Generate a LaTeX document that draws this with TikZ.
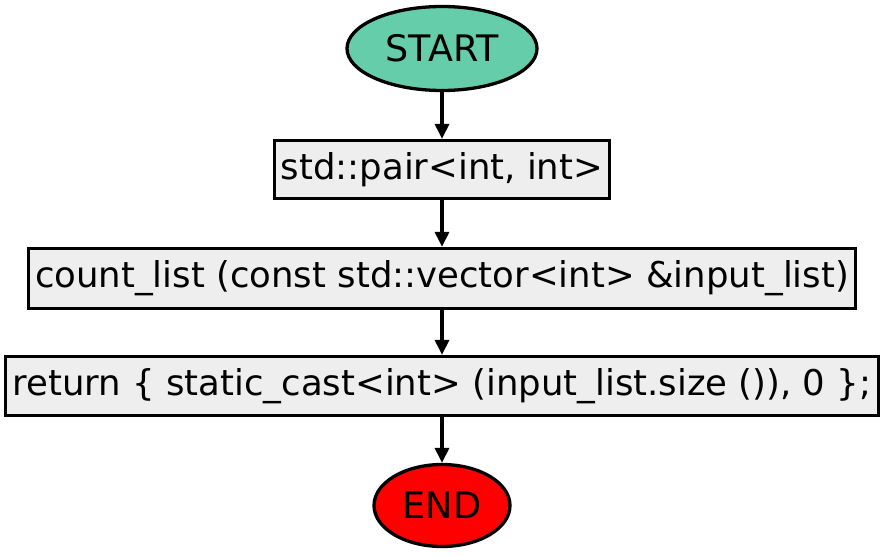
\documentclass[tikz,border=0pt]{standalone}
\usepackage{fontspec}
\setmainfont{DejaVu Sans}
\usetikzlibrary{shapes.geometric,arrows.meta}
\definecolor{startc}{HTML}{66CDAA}
\definecolor{boxc}{HTML}{EEEEEE}
\definecolor{endc}{HTML}{FF0000}
\begin{document}
\begin{tikzpicture}[x=1pt,y=-1pt,
  term/.style={ellipse,draw=black,line width=3.3pt,inner sep=0pt,font=\fontsize{36.5}{40}\selectfont},
  proc/.style={rectangle,draw=black,line width=3.3pt,fill=boxc,inner sep=0pt,font=\fontsize{35.5}{40}\selectfont},
  flow/.style={line width=3.3pt,-{Triangle[length=15pt,width=14pt]}}]
\useasboundingbox (0,0) rectangle (885,556);
\node[term,fill=startc,minimum width=190pt,minimum height=84pt] (start) at (442,48.5) {START};
\node[proc,minimum width=335pt,minimum height=58pt] (b1) at (442,169.5) {std::pair<int, int>};
\node[proc,minimum width=827pt,minimum height=60pt] (b2) at (442,278.5) {count\_list (const std::vector<int> \&input\_list)};
\node[proc,minimum width=873pt,minimum height=59pt] (b3) at (442,386) {return \{ static\_cast<int> (input\_list.size ()), 0 \};};
\node[term,fill=endc,minimum width=136pt,minimum height=82pt] (end) at (442,505.5) {END};
\draw[flow] (start) -- (b1);
\draw[flow] (b1) -- (b2);
\draw[flow] (b2) -- (b3);
\draw[flow] (b3) -- (end);
\end{tikzpicture}
\end{document}
